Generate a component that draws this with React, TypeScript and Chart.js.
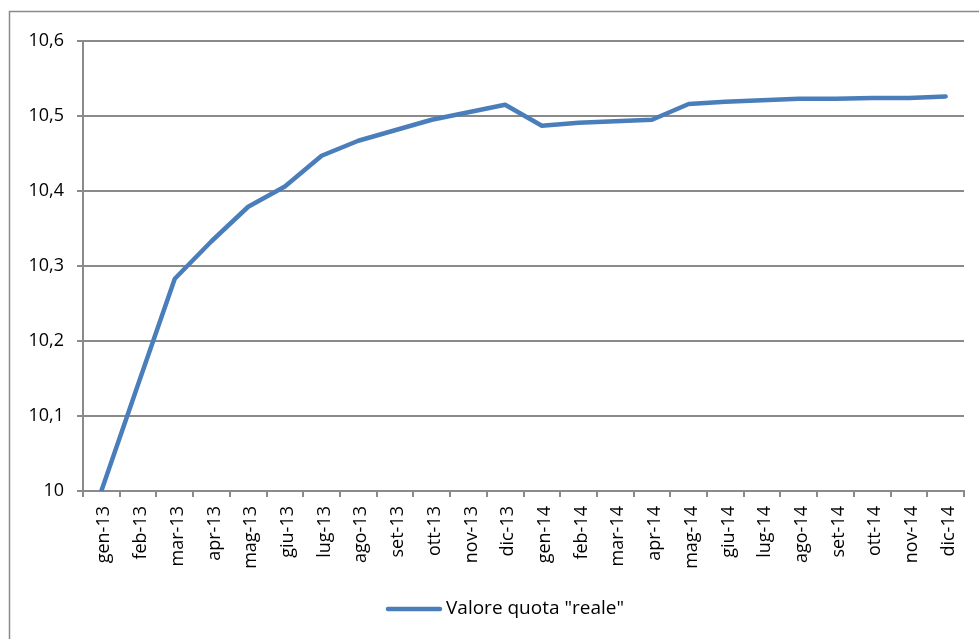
import React, { useEffect, useRef } from 'react';
import { Chart, registerables } from 'chart.js';

Chart.register(...registerables);

const categories = [
  'gen-13', 'feb-13', 'mar-13', 'apr-13', 'mag-13', 'giu-13', 'lug-13', 'ago-13',
  'set-13', 'ott-13', 'nov-13', 'dic-13', 'gen-14', 'feb-14', 'mar-14', 'apr-14',
  'mag-14', 'giu-14', 'lug-14', 'ago-14', 'set-14', 'ott-14', 'nov-14', 'dic-14',
];

const seriesLabel = 'Valore quota "reale"';

const values = [
  10.0, 10.142, 10.283, 10.333, 10.379, 10.406, 10.447, 10.467,
  10.481, 10.495, 10.505, 10.515, 10.487, 10.491, 10.493, 10.495,
  10.516, 10.519, 10.521, 10.523, 10.523, 10.524, 10.524, 10.526,
];

const yTickLabels = ['10', '10,1', '10,2', '10,3', '10,4', '10,5', '10,6'];

const FONT = "'Open Sans', 'DejaVu Sans', sans-serif";
const GRID = '#8a8a8a';
const LINE = '#4A7EBB';

const framePlugin = {
  id: 'frame',
  beforeDraw(chart: any) {
    const { ctx, width, height } = chart;
    ctx.save();
    ctx.fillStyle = '#ffffff';
    ctx.fillRect(0, 0, width, height);
    ctx.strokeStyle = GRID;
    ctx.lineWidth = 1.5;
    ctx.strokeRect(9.5, 11.5, width + 20, height + 20);
    ctx.restore();
  },
};

const legendPlugin = {
  id: 'customLegend',
  afterDraw(chart: any) {
    const { ctx } = chart;
    const ds = chart.data.datasets[0];
    const y = 609;
    ctx.save();
    ctx.strokeStyle = ds.borderColor;
    ctx.lineWidth = 4.5;
    ctx.lineCap = 'round';
    ctx.beginPath();
    ctx.moveTo(388, y);
    ctx.lineTo(440, y);
    ctx.stroke();
    ctx.fillStyle = '#000';
    ctx.font = `19px ${FONT}`;
    ctx.textBaseline = 'middle';
    ctx.textAlign = 'left';
    ctx.fillText(ds.label, 446, y);
    ctx.restore();
  },
};

export default function App() {
  const canvasRef = useRef<HTMLCanvasElement | null>(null);

  useEffect(() => {
    if (!canvasRef.current) return;
    const chart = new Chart(canvasRef.current, {
      type: 'line',
      data: {
        labels: categories,
        datasets: [
          {
            label: seriesLabel,
            data: values,
            borderColor: LINE,
            backgroundColor: LINE,
            borderWidth: 4.5,
            borderCapStyle: 'round',
            borderJoinStyle: 'round',
            pointRadius: 0,
            pointHoverRadius: 0,
            tension: 0,
            fill: false,
          },
        ],
      },
      options: {
        responsive: false,
        animation: false,
        devicePixelRatio: 1,
        layout: { padding: { left: 0, right: 15, top: 41, bottom: 0 } },
        plugins: {
          legend: { display: false },
          tooltip: { enabled: false },
        },
        scales: {
          x: {
            offset: true,
            afterFit(scale: any) {
              scale.height = 148;
            },
            grid: {
              offset: true,
              drawOnChartArea: false,
              drawTicks: true,
              tickLength: 6,
              color: GRID,
              lineWidth: 2,
            },
            border: { display: true, color: GRID, width: 2 },
            ticks: {
              minRotation: 90,
              maxRotation: 90,
              autoSkip: false,
              padding: 9,
              labelOffset: 3,
              color: '#000',
              font: { family: FONT, size: 18 },
            },
          },
          y: {
            min: 10,
            max: 10.6,
            afterFit(scale: any) {
              scale.width = 83;
            },
            grid: {
              color: GRID,
              lineWidth: 2,
              tickLength: 6,
              drawTicks: true,
            },
            border: { display: true, color: GRID, width: 2 },
            ticks: {
              stepSize: 0.1,
              padding: 13,
              color: '#000',
              font: { family: FONT, size: 18 },
              callback: (_v: any, i: number) => yTickLabels[i],
            },
          },
        },
      },
      plugins: [framePlugin, legendPlugin],
    });
    return () => chart.destroy();
  }, []);

  return (
    <div style={{ position: 'absolute', left: 0, top: 0, width: 979, height: 639 }}>
      <canvas ref={canvasRef} width={979} height={639} style={{ display: 'block' }} />
    </div>
  );
}
